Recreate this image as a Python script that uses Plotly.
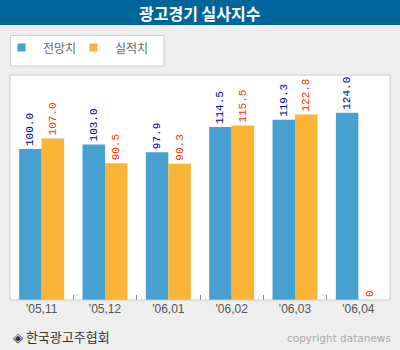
import plotly.graph_objects as go

categories = ["'05,11", "'05,12", "'06,01", "'06,02", "'06,03", "'06,04"]
forecast = [100.0, 103.0, 97.9, 114.5, 119.3, 124.0]
actual = [107.0, 90.5, 90.3, 115.5, 122.8, 0]
series_names = ["전망치", "실적치"]
title_text = "광고경기 실사지수"
source_text = "◈ 한국광고주협회"
copyright_text = "copyright datanews"

BLUE = "#46A0D0"
ORANGE = "#FBB438"
W, H = 400, 350
L, R, T, B = 10, 10, 75, 50
PW, PH = W - L - R, H - T - B


def px_x(x):
    return (x - L) / PW


def px_y(y):
    return (H - B - y) / PH


def fmt(v):
    return f"{v:.1f}" if v else "0"


fig = go.Figure()
fig.add_trace(go.Bar(
    x=categories, y=forecast, name=series_names[0], marker_color=BLUE,
    marker_line_width=0,
    text=[fmt(v) for v in forecast], textposition="outside", textangle=-90,
    constraintext="none",
    textfont=dict(family="Liberation Mono", size=11, color="#000099"),
    cliponaxis=False, showlegend=False,
))
fig.add_trace(go.Bar(
    x=categories, y=actual, name=series_names[1], marker_color=ORANGE,
    marker_line_width=0,
    text=[fmt(v) for v in actual], textposition="outside", textangle=-90,
    constraintext="none",
    textfont=dict(family="Liberation Mono", size=11, color="#FF3300"),
    cliponaxis=False, showlegend=False,
))

shapes = [
    # title bar
    dict(type="rect", xref="paper", yref="paper", x0=px_x(0), x1=px_x(W),
         y0=px_y(25), y1=px_y(0), fillcolor="#006699", line_width=0, layer="above"),
    # legend box
    dict(type="rect", xref="paper", yref="paper", x0=px_x(10.5), x1=px_x(164),
         y0=px_y(66), y1=px_y(35.5), fillcolor="white", line=dict(color="#cccccc", width=1)),
    # legend swatches
    dict(type="rect", xref="paper", yref="paper", x0=px_x(17.5), x1=px_x(25.5),
         y0=px_y(51.5), y1=px_y(43.5), fillcolor=BLUE, line_width=0),
    dict(type="rect", xref="paper", yref="paper", x0=px_x(89.5), x1=px_x(97.5),
         y0=px_y(51.5), y1=px_y(43.5), fillcolor=ORANGE, line_width=0),
    # plot border
    dict(type="rect", xref="paper", yref="paper", x0=0, x1=1, y0=0, y1=1,
         line=dict(color="#cccccc", width=1), layer="above"),
]

annotations = [
    dict(text=f"<b>{title_text}</b>", xref="paper", yref="paper", x=px_x(200), y=px_y(12.5),
         xanchor="center", yanchor="middle", showarrow=False,
         font=dict(family="Noto Sans CJK KR", size=16, color="white")),
    dict(text=series_names[0], xref="paper", yref="paper", x=px_x(41), y=px_y(48),
         xanchor="left", yanchor="middle", showarrow=False,
         font=dict(family="Noto Sans CJK KR", size=12, color="#666666")),
    dict(text=series_names[1], xref="paper", yref="paper", x=px_x(113), y=px_y(48),
         xanchor="left", yanchor="middle", showarrow=False,
         font=dict(family="Noto Sans CJK KR", size=12, color="#666666")),
    dict(text=source_text, xref="paper", yref="paper", x=px_x(11), y=px_y(336),
         xanchor="left", yanchor="middle", showarrow=False,
         font=dict(family="Noto Sans CJK KR", size=13, color="#333333")),
    dict(text=copyright_text, xref="paper", yref="paper", x=px_x(393), y=px_y(338),
         xanchor="right", yanchor="middle", showarrow=False,
         font=dict(family="DejaVu Sans", size=10.5, color="#aaaaaa")),
]

fig.update_layout(
    width=W, height=H,
    margin=dict(l=L, r=R, t=T, b=B),
    paper_bgcolor="#eeeeee", plot_bgcolor="white",
    barmode="group", bargap=0.29, bargroupgap=0,
    showlegend=False,
    shapes=shapes, annotations=annotations,
    xaxis=dict(
        type="category", tickson="boundaries", ticks="inside", ticklen=5,
        tickcolor="#888888", tickwidth=1, showgrid=False, showline=False, zeroline=False,
        tickfont=dict(family="Liberation Sans", size=12, color="#555555"),
        fixedrange=True,
    ),
    yaxis=dict(range=[0, 149], visible=False, showgrid=False, fixedrange=True),
)

fig.write_html("out.html")
